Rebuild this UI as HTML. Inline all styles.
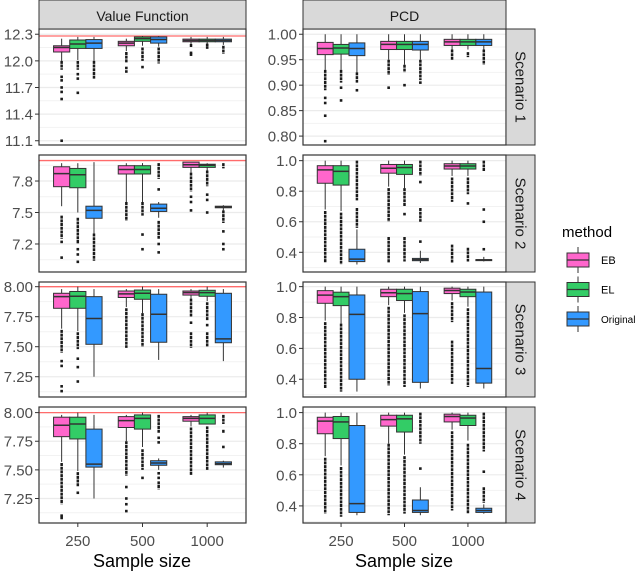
<!DOCTYPE html>
<html><head><meta charset="utf-8">
<style>
html,body{margin:0;padding:0;background:#fff;}
svg{display:block;font-family:"Liberation Sans",sans-serif;}
</style></head>
<body>
<svg id="chart" width="640" height="571" viewBox="0 0 640 571" xmlns="http://www.w3.org/2000/svg"></svg>
<script>
// ---- data ----
const sampleSizes = ["250","500","1000"];
const methods = ["EB","EL","Original"];
const scenarios = ["Scenario 1","Scenario 2","Scenario 3","Scenario 4"];
const metrics = ["Value Function","PCD"];
// each box: [whiskerLow, q1, median, q3, whiskerHigh], order: 250(EB,EL,Orig),500(...),1000(...)
const vf1Boxes = [[12.0,12.10,12.15,12.17,12.25],[12.01,12.14,12.19,12.235,12.27],[12.0,12.14,12.2,12.24,12.27],[12.11,12.17,12.2,12.22,12.25],[12.17,12.22,12.25,12.27,12.28],[12.16,12.2,12.24,12.27,12.28],[12.19,12.215,12.23,12.245,12.27],[12.19,12.215,12.23,12.245,12.27],[12.18,12.215,12.23,12.245,12.27]];
const vf1Out = [[[12.0,11.9],[11.82],[11.78],[11.7],[11.65],[11.57],[11.1]],[[12.0,11.9],[11.85],[11.8],[11.64]],[[12.0,11.8]],[[12.1,11.98],[11.92],[11.88]],[[12.15,12.0],[11.93]],[[12.15,11.97]],[[12.19,12.15],[12.09],[12.07]],[[12.18],[12.15]],[[12.17,12.08]]];
const pcd1Boxes = [[0.93,0.96,0.972,0.984,1.0],[0.93,0.961,0.973,0.98,1.0],[0.925,0.958,0.972,0.983,1.0],[0.95,0.97,0.98,0.986,1.0],[0.94,0.97,0.98,0.986,1.0],[0.95,0.969,0.98,0.986,1.0],[0.97,0.978,0.985,0.99,1.0],[0.97,0.978,0.985,0.99,1.0],[0.97,0.978,0.985,0.99,1.0]];
const pcd1Out = [[[0.93,0.89],[0.875],[0.865],[0.84],[0.79]],[[0.93,0.905],[0.895],[0.87]],[[0.925,0.905],[0.89]],[[0.95,0.92],[0.895]],[[0.94,0.925],[0.9]],[[0.95,0.91],[0.905]],[[0.97,0.95]],[[0.965,0.955]],[[0.97,0.94]]];
const vf2Boxes = [[7.56,7.746,7.87,7.936,7.97],[7.5,7.736,7.86,7.92,7.97],[7.3,7.445,7.52,7.56,7.98],[7.6,7.867,7.91,7.946,7.97],[7.6,7.867,7.91,7.946,7.97],[7.45,7.51,7.54,7.58,7.6],[7.88,7.93,7.955,7.98,7.98],[7.9,7.93,7.95,7.96,7.97],[7.52,7.545,7.55,7.56,7.57]];
const vf2Out = [[[7.47,7.25],[7.22],[7.07]],[[7.45,7.2],[7.15],[7.1],[7.03]],[[7.3,7.04]],[[7.6,7.42]],[[7.6,7.47],[7.29],[7.15]],[[7.97,7.82],[7.72],[7.42,7.25],[7.2],[7.12]],[[7.88,7.7],[7.65],[7.6],[7.52]],[[7.9,7.75],[7.67],[7.62],[7.5]],[[7.97,7.92],[7.52,7.4],[7.32],[7.2],[7.15]]];
const pcd2Boxes = [[0.68,0.852,0.94,0.967,1.0],[0.67,0.84,0.93,0.967,1.0],[0.32,0.339,0.355,0.42,0.55],[0.83,0.918,0.95,0.975,1.0],[0.82,0.91,0.955,0.975,1.0],[0.33,0.345,0.352,0.36,0.41],[0.9,0.945,0.965,0.98,1.0],[0.9,0.945,0.965,0.98,1.0],[0.34,0.348,0.35,0.352,0.37]];
const pcd2Out = [[[0.67,0.33]],[[0.66,0.32]],[[1.0,0.74],[0.69,0.56]],[[0.82,0.6],[0.5,0.33]],[[0.82,0.7],[0.65],[0.5,0.34]],[[1.0,0.9],[0.86],[0.69,0.6],[0.47]],[[0.89,0.73],[0.45,0.33]],[[0.89,0.78],[0.72],[0.43,0.34]],[[1.0,0.93],[0.68],[0.6],[0.42]]];
const vf3Boxes = [[7.65,7.82,7.917,7.945,7.98],[7.63,7.82,7.92,7.96,8.0],[7.25,7.52,7.735,7.917,7.98],[7.83,7.91,7.94,7.964,7.98],[7.78,7.895,7.945,7.972,8.0],[7.39,7.537,7.77,7.937,7.98],[7.9,7.93,7.95,7.964,7.98],[7.88,7.92,7.95,7.97,8.0],[7.38,7.533,7.565,7.945,7.98]];
const vf3Out = [[[7.64,7.45],[7.38],[7.34],[7.17],[7.13]],[[7.62,7.48],[7.4],[7.33],[7.21]],[],[[7.82,7.49]],[[7.78,7.5]],[],[[7.9,7.75],[7.7],[7.62,7.49]],[[7.87,7.72],[7.68],[7.62,7.5]],[]];
const pcd3Boxes = [[0.78,0.892,0.945,0.974,1.0],[0.76,0.877,0.935,0.964,1.0],[0.32,0.4,0.82,0.946,1.0],[0.88,0.935,0.96,0.983,1.0],[0.83,0.91,0.955,0.983,1.0],[0.34,0.38,0.825,0.968,1.0],[0.91,0.955,0.975,0.99,1.0],[0.87,0.935,0.965,0.983,1.0],[0.34,0.375,0.47,0.965,1.0]];
const pcd3Out = [[[0.77,0.34]],[[0.76,0.32]],[],[[0.87,0.36]],[[0.82,0.35]],[],[[0.9,0.77],[0.65,0.37]],[[0.86,0.35]],[]];
const vf4Boxes = [[7.57,7.79,7.89,7.96,7.98],[7.49,7.77,7.9,7.96,8.0],[7.25,7.524,7.55,7.856,7.98],[7.75,7.87,7.93,7.965,7.98],[7.7,7.856,7.95,7.98,8.0],[7.5,7.54,7.56,7.58,7.6],[7.88,7.925,7.95,7.965,7.98],[7.9,7.9,7.95,7.98,8.0],[7.52,7.545,7.555,7.57,7.58]];
const vf4Out = [[[7.56,7.2],[7.1],[7.08]],[[7.48,7.35],[7.3]],[],[[7.75,7.45],[7.35],[7.25],[7.2],[7.14]],[[7.68,7.5],[7.43]],[[7.98,7.82],[7.78],[7.74],[7.47],[7.43],[7.4,7.33]],[[7.87,7.45]],[[7.88,7.5]],[[7.98,7.9],[7.85,7.82],[7.7]]];
const pcd4Boxes = [[0.72,0.864,0.945,0.97,1.0],[0.66,0.833,0.94,0.975,1.0],[0.34,0.358,0.415,0.917,1.0],[0.8,0.913,0.955,0.983,1.0],[0.73,0.875,0.96,0.983,1.0],[0.34,0.358,0.37,0.438,0.52],[0.89,0.94,0.975,0.99,1.0],[0.82,0.917,0.965,0.983,1.0],[0.35,0.358,0.37,0.385,0.41]];
const pcd4Out = [[[0.71,0.35]],[[0.65,0.33]],[],[[0.8,0.34]],[[0.72,0.35]],[[1.0,0.8],[0.64]],[[0.88,0.37]],[[0.8,0.35]],[[1.0,0.75],[0.62],[0.52,0.42]]];
const vfTicks1 = [11.1,11.4,11.7,12.0,12.3];
const pcdTicks1 = [0.80,0.85,0.90,0.95,1.00];
const vfTicks2 = [7.2,7.5,7.8];
const vfTicks34 = [7.25,7.50,7.75,8.00];
const pcdTicks234 = [0.4,0.6,0.8,1.0];
const refLines = [12.28,7.995,8.0,8.0];

// ---- layout ----
const svg = document.getElementById('chart');
const NS = 'http://www.w3.org/2000/svg';
const colors = ["#ff66cc","#33cc66","#3399ff"];
const cols = [{x:39,w:207},{x:303,w:203}];
const rows = [{y:29,h:116},{y:155,h:117},{y:282,h:115},{y:407,h:116}];
const panels = [
 {r:0,c:0,dom:[11.052,12.359],ticks:vfTicks1,dec:1,boxes:vf1Boxes,out:vf1Out,ref:refLines[0]},
 {r:0,c:1,dom:[0.7825,1.0103],ticks:pcdTicks1,dec:2,boxes:pcd1Boxes,out:pcd1Out},
 {r:1,c:0,dom:[6.933,8.048],ticks:vfTicks2,dec:1,boxes:vf2Boxes,out:vf2Out,ref:refLines[1]},
 {r:1,c:1,dom:[0.271,1.037],ticks:pcdTicks234,dec:1,boxes:pcd2Boxes,out:pcd2Out},
 {r:2,c:0,dom:[7.081,8.039],ticks:vfTicks34,dec:2,boxes:vf3Boxes,out:vf3Out,ref:refLines[2]},
 {r:2,c:1,dom:[0.285,1.03],ticks:pcdTicks234,dec:1,boxes:pcd3Boxes,out:pcd3Out},
 {r:3,c:0,dom:[7.036,8.049],ticks:vfTicks34,dec:2,boxes:vf4Boxes,out:vf4Out,ref:refLines[3]},
 {r:3,c:1,dom:[0.29,1.036],ticks:pcdTicks234,dec:1,boxes:pcd4Boxes,out:pcd4Out}
];
function mk(tag, attrs, parent){
  const e = document.createElementNS(NS, tag);
  for (const k in attrs) e.setAttribute(k, attrs[k]);
  (parent||svg).appendChild(e);
  return e;
}
panels.forEach((p, pi) => {
  const C = cols[p.c], R = rows[p.r];
  const y = v => R.y + R.h * (p.dom[1] - v) / (p.dom[1] - p.dom[0]);
  const xCat = i => C.x + C.w * (i + 0.6) / 3.2;
  const unit = C.w / 3.2;
  const g = mk('g', {});
  
  
  mk('rect', {x:C.x, y:R.y, width:C.w, height:R.h, fill:'#fff'}, g);
  for (let i = 0; i < p.ticks.length + 1; i++) {
    const step = p.ticks[1] - p.ticks[0];
    const v = p.ticks[0] - step/2 + i*step;
    if (v > p.dom[0] && v < p.dom[1]) {
      const gl = mk('line', {x1:C.x, x2:C.x+C.w, y1:y(v), y2:y(v), stroke:'#f2f2f2', 'stroke-width':1}, g);
       
    }
  }
  p.ticks.forEach(t => {
    const gl = mk('line', {x1:C.x, x2:C.x+C.w, y1:y(t), y2:y(t), stroke:'#ebebeb', 'stroke-width':1.2}, g);
     
    mk('line', {x1:C.x-4, x2:C.x, y1:y(t), y2:y(t), stroke:'#333', 'stroke-width':1}, g);
    const tl = mk('text', {x:C.x-6, y:y(t)+5.5, 'text-anchor':'end', 'font-size':15, fill:'#4d4d4d'}, g);
     
    tl.textContent = t.toFixed(p.dec);
  });
  if (p.ref !== undefined) {
    const rl = mk('line', {x1:C.x, x2:C.x+C.w, y1:y(p.ref), y2:y(p.ref), stroke:'#ff6b6b', 'stroke-width':1.3}, g);
     
  }
  p.boxes.forEach((b, bi) => {
    const si = Math.floor(bi/3), mi = bi % 3;
    const cx = xCat(si) + (mi - 1) * unit * 0.25;
    const hw = unit * 0.125;
    const bg = mk('g', {}, g);
    
    
    mk('line', {x1:cx, x2:cx, y1:y(b[4]), y2:y(b[0]), stroke:'#333', 'stroke-width':1}, bg);
    const bh = Math.max(y(b[1]) - y(b[3]), 1);
    mk('rect', {x:cx-hw, y:y(b[3]), width:hw*2, height:bh, fill:colors[mi], stroke:'#333', 'stroke-width':1}, bg);
    mk('line', {x1:cx-hw, x2:cx+hw, y1:y(b[2]), y2:y(b[2]), stroke:'#333', 'stroke-width':1.5}, bg);
    (p.out[bi] || []).forEach(o => {
      if (o.length === 2) {
        mk('line', {x1:cx, x2:cx, y1:y(o[0]), y2:y(o[1]), stroke:'#1a1a1a', 'stroke-width':2.5, 'stroke-dasharray':'3,0.7'}, bg);
      } else {
        mk('rect', {x:cx-1.3, y:y(o[0])-1.3, width:2.6, height:2.6, fill:'#1a1a1a'}, bg);
      }
    });
  });
  mk('rect', {x:C.x, y:R.y, width:C.w, height:R.h, fill:'none', stroke:'#333', 'stroke-width':1.2}, g);
  if (p.r === 3) {
    sampleSizes.forEach((s, si) => {
      mk('line', {x1:xCat(si), x2:xCat(si), y1:R.y+R.h, y2:R.y+R.h+4, stroke:'#333'}, g);
      const xl = mk('text', {x:xCat(si), y:546, 'text-anchor':'middle', 'font-size':15, fill:'#4d4d4d'}, g);
       
      xl.textContent = s;
    });
  }
});
metrics.forEach((m, ci) => {
  const C = cols[ci];
  const s = mk('g', {});
  
  
  mk('rect', {x:C.x, y:0, width:C.w, height:29, fill:'#d9d9d9', stroke:'#333', 'stroke-width':1}, s);
  const t = mk('text', {x:C.x+C.w/2, y:21, 'text-anchor':'middle', 'font-size':14, fill:'#1a1a1a'}, s);
  t.textContent = m;
});
scenarios.forEach((sc, ri) => {
  const R = rows[ri];
  const s = mk('g', {});
  
  
  mk('rect', {x:506, y:R.y, width:29, height:R.h, fill:'#d9d9d9', stroke:'#333', 'stroke-width':1}, s);
  const cx = 520.5, cy = R.y + R.h/2;
  const t = mk('text', {x:cx, y:cy+5, 'text-anchor':'middle', 'font-size':15, fill:'#1a1a1a', transform:'rotate(90 '+cx+' '+cy+')'}, s);
  t.textContent = sc;
});
const xt = mk('text', {x:142, y:567, 'text-anchor':'middle', 'font-size':18, fill:'#000'});
 
xt.textContent = 'Sample size';
const xt2 = mk('text', {x:404, y:567, 'text-anchor':'middle', 'font-size':18, fill:'#000'});
 
xt2.textContent = 'Sample size';
const lg = mk('g', {});
 
const lt = mk('text', {x:562, y:237, 'font-size':15, fill:'#000'}, lg);
 
lt.textContent = 'method';
methods.forEach((m, mi) => {
  const top = 253 + mi * 29.5;
  const e = mk('g', {}, lg);
  
  
  mk('line', {x1:578, x2:578, y1:top-6, y2:top+20, stroke:'#333'}, e);
  mk('rect', {x:567, y:top, width:22, height:14, fill:colors[mi], stroke:'#333', 'stroke-width':1}, e);
  mk('line', {x1:567, x2:589, y1:top+7, y2:top+7, stroke:'#333', 'stroke-width':1.3}, e);
  const t = mk('text', {x:601, y:top+11, 'font-size':m==='Original'?10:11, fill:'#000'}, e);
  t.textContent = m;
});
</script>
</body></html>
